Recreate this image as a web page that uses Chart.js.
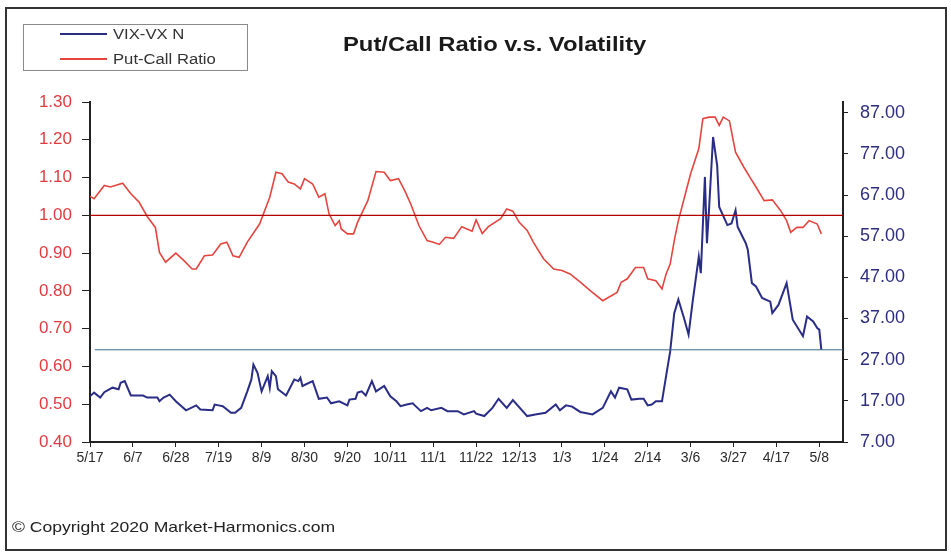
<!DOCTYPE html>
<html>
<head>
<meta charset="utf-8">
<script src="https://cdn.jsdelivr.net/npm/chart.js@4.4.1/dist/chart.umd.min.js"></script>
<style>
  html, body { margin: 0; padding: 0; background: #fff; }
  body { position: relative; width: 951px; height: 558px; overflow: hidden; font-family: 'Liberation Sans', Arial, sans-serif; }
  #frame { position: absolute; left: 5px; top: 7px; width: 942px; height: 544px; border: 2px solid #333; box-sizing: border-box; }
  #chart { position: absolute; left: 0; top: 0; }
  .stretch { position: absolute; white-space: nowrap; transform-origin: left center; }
  #title { left: 343px; top: 33px; font-size: 20px; font-weight: bold; color: #1a1a1a; transform: scaleX(1.19); line-height: 22px; }
  #legend { position: absolute; left: 23px; top: 24px; width: 225px; height: 47px; border: 1px solid #8a8a8a; box-sizing: border-box; }
  #legend .swatch { position: absolute; left: 36px; width: 47px; height: 2px; }
  #legend .label { left: 89px; font-size: 14px; color: #333; transform: scaleX(1.19); line-height: 16px; }
  #copyright { left: 12px; top: 518px; font-size: 15px; color: #222; transform: scaleX(1.17); line-height: 18px; }
</style>
</head>
<body>
<div id="frame"></div>
<canvas id="chart" width="951" height="558"></canvas>
<div id="title" class="stretch">Put/Call Ratio v.s. Volatility</div>
<div id="legend"></div>
<div id="copyright" class="stretch">© Copyright 2020 Market-Harmonics.com</div>
<script>
// days counted from 5/17/2019
const tickDays = [0, 21, 42, 63, 84, 105, 126, 147, 168, 189, 210, 231, 252, 273, 294, 315, 336, 357];
const tickLabels = ['5/17', '6/7', '6/28', '7/19', '8/9', '8/30', '9/20', '10/11', '11/1', '11/22', '12/13', '1/3', '1/24', '2/14', '3/6', '3/27', '4/17', '5/8'];
const vixTicks = [7, 17, 27, 37, 47, 57, 67, 77, 87];

// Put-Call Ratio (left axis)
const pcrDays = [0, 2, 7, 10, 16, 20, 24, 28, 32, 34, 37, 42, 46, 50, 52, 56, 60, 64, 67, 70, 73, 77, 83, 88, 91, 94, 97, 100, 103, 105, 109, 112, 115, 117, 120, 122, 123, 126, 129, 131, 136, 140, 144, 147, 151, 154, 157, 161, 165, 168, 171, 174, 178, 182, 187, 189, 192, 195, 201, 204, 207, 210, 214, 217, 222, 227, 231, 235, 240, 245, 251, 258, 260, 263, 267, 271, 273, 277, 280, 282, 284, 286, 288, 291, 294, 298, 300, 303, 306, 308, 310, 313, 316, 320, 323, 326, 330, 334, 338, 341, 343, 346, 349, 352, 356, 358];
const pcrValues = [1.05, 1.044, 1.079, 1.075, 1.085, 1.057, 1.035, 0.997, 0.968, 0.902, 0.876, 0.90, 0.88, 0.858, 0.858, 0.893, 0.895, 0.924, 0.929, 0.893, 0.889, 0.929, 0.977, 1.048, 1.114, 1.11, 1.088, 1.083, 1.07, 1.097, 1.083, 1.048, 1.057, 1.004, 0.973, 0.986, 0.964, 0.951, 0.951, 0.982, 1.039, 1.116, 1.114, 1.092, 1.097, 1.066, 1.03, 0.973, 0.933, 0.929, 0.923, 0.942, 0.939, 0.97, 0.958, 0.988, 0.952, 0.97, 0.991, 1.017, 1.011, 0.982, 0.96, 0.929, 0.885, 0.858, 0.854, 0.845, 0.823, 0.80, 0.774, 0.796, 0.823, 0.832, 0.862, 0.862, 0.832, 0.827, 0.805, 0.845, 0.871, 0.933, 0.986, 1.048, 1.11, 1.176, 1.256, 1.26, 1.26, 1.238, 1.26, 1.25, 1.167, 1.128, 1.101, 1.075, 1.039, 1.041, 1.013, 0.986, 0.955, 0.968, 0.968, 0.986, 0.977, 0.951];

// VIX (right axis)
const vixDays = [0, 2, 5, 7, 11, 14, 15, 17, 20, 26, 28, 33, 34, 36, 39, 42, 47, 52, 54, 60, 61, 63, 65, 69, 71, 74, 77, 79, 80, 82, 84, 87, 88, 89, 91, 92, 96, 100, 102, 103, 104, 109, 112, 116, 118, 122, 126, 127, 130, 131, 133, 135, 138, 140, 144, 147, 150, 152, 155, 158, 159, 162, 165, 167, 172, 175, 180, 183, 188, 189, 193, 197, 200, 204, 207, 214, 218, 223, 228, 230, 233, 236, 240, 246, 251, 255, 257, 259, 263, 265, 269, 271, 273, 275, 277, 280, 282, 284, 286, 288, 291, 293, 295, 298, 299, 301, 302, 303, 305, 307, 308, 312, 314, 316, 317, 321, 322, 324, 326, 329, 333, 334, 337, 341, 344, 349, 351, 354, 356, 357, 358];
const vixValues = [18.1, 19.0, 17.8, 19.1, 20.2, 19.8, 21.4, 21.8, 18.3, 18.3, 17.8, 17.8, 16.9, 17.8, 18.5, 16.9, 14.7, 15.9, 14.9, 14.7, 16.1, 15.9, 15.7, 14.1, 14.1, 15.3, 19.3, 22.2, 25.8, 23.8, 19.3, 23.0, 20.2, 24.2, 23.0, 19.8, 18.3, 22.2, 21.8, 22.6, 20.6, 21.8, 17.5, 17.8, 16.4, 16.9, 15.9, 17.3, 17.5, 19.0, 19.3, 18.3, 21.8, 19.3, 20.6, 18.1, 16.9, 15.7, 16.1, 16.4, 15.9, 14.5, 15.3, 14.7, 15.3, 14.5, 14.5, 13.7, 14.5, 13.9, 13.3, 15.3, 17.5, 15.3, 17.2, 13.3, 13.7, 14.1, 16.1, 14.7, 15.9, 15.6, 14.3, 13.7, 15.3, 19.3, 17.8, 20.2, 19.8, 17.3, 17.5, 17.5, 15.9, 16.1, 16.9, 16.9, 23.0, 29.0, 38.3, 41.6, 36.7, 33.1, 41.1, 52.0, 48.0, 71.4, 55.3, 63.3, 81.1, 74.2, 64.1, 59.7, 60.1, 63.3, 59.3, 55.3, 53.7, 45.6, 44.8, 42.0, 41.1, 38.3, 40.3, 45.6, 36.7, 32.7, 37.5, 36.3, 34.7, 34.3, 29.4];

// reference levels
const pcrLevel = 1.00;
const vixLevel = 29.4;

const xMax = 368.6;
const vixMax = 89.6;

Chart.defaults.font.family = "'Liberation Sans', Arial, sans-serif";

const toPoints = (days, values) => days.map((d, i) => ({x: d, y: values[i]}));

const series = [
  {label: 'VIX-VX N', color: '#2a2d86'},
  {label: 'Put-Call Ratio', color: '#e5453f'}
];

const ctx = document.getElementById('chart').getContext('2d');
const chart = new Chart(ctx, {
  type: 'line',
  data: {
    datasets: [
      {
        label: 'PCR level',
        data: [{x: 0, y: pcrLevel}, {x: xMax, y: pcrLevel}],
        yAxisID: 'yL',
        borderColor: '#b30000',
        borderWidth: 1.3
      },
      {
        label: 'VIX level',
        data: [{x: 2.4, y: vixLevel}, {x: xMax, y: vixLevel}],
        yAxisID: 'yR',
        borderColor: '#3d6a8e',
        borderWidth: 1
      },
      {
        label: series[0].label,
        data: toPoints(vixDays, vixValues),
        yAxisID: 'yR',
        borderColor: series[0].color,
        borderWidth: 2
      },
      {
        label: series[1].label,
        data: toPoints(pcrDays, pcrValues),
        yAxisID: 'yL',
        borderColor: series[1].color,
        borderWidth: 1.6
      }
    ]
  },
  options: {
    responsive: false,
    animation: false,
    elements: {
      point: { radius: 0 },
      line: { tension: 0 }
    },
    layout: {
      padding: { top: 102, bottom: 86, left: 0, right: 0 }
    },
    plugins: {
      legend: { display: false },
      tooltip: { enabled: false }
    },
    scales: {
      x: {
        type: 'linear',
        min: 0,
        max: xMax,
        afterBuildTicks: (scale) => { scale.ticks = tickDays.map(v => ({value: v})); },
        afterFit: (scale) => { scale.height = 30; },
        ticks: {
          autoSkip: false,
          maxRotation: 0,
          color: '#2a2a2a',
          font: { size: 14 },
          padding: 3,
          callback: (value, index) => tickLabels[index]
        },
        grid: { drawOnChartArea: false, tickLength: 5, color: '#222' },
        border: { color: '#222', width: 2 }
      },
      yL: {
        position: 'left',
        min: 0.4,
        max: 1.3,
        afterFit: (scale) => { scale.width = 90; },
        ticks: {
          stepSize: 0.1,
          color: '#e23b3f',
          font: { size: 17 },
          padding: 10,
          callback: (value) => value.toFixed(2)
        },
        grid: { drawOnChartArea: false, tickLength: 8, color: '#222' },
        border: { color: '#222', width: 2 }
      },
      yR: {
        position: 'right',
        min: 7,
        max: vixMax,
        afterBuildTicks: (scale) => { scale.ticks = vixTicks.map(v => ({value: v})); },
        afterFit: (scale) => { scale.width = 108; },
        ticks: {
          color: '#2e2e80',
          font: { size: 18 },
          padding: 12,
          callback: (value) => value.toFixed(2)
        },
        grid: { drawOnChartArea: false, tickLength: 5, color: '#222' },
        border: { color: '#222', width: 2 }
      }
    }
  }
});

// legend box
const legend = document.getElementById('legend');
series.forEach((s, i) => {
  const top = 8 + i * 25;
  const line = document.createElement('div');
  line.className = 'swatch';
  line.style.top = top + 'px';
  line.style.background = s.color;
  legend.appendChild(line);
  const text = document.createElement('div');
  text.className = 'stretch label';
  text.style.top = (top - 7) + 'px';
  text.textContent = s.label;
  legend.appendChild(text);
});
</script>
</body>
</html>
